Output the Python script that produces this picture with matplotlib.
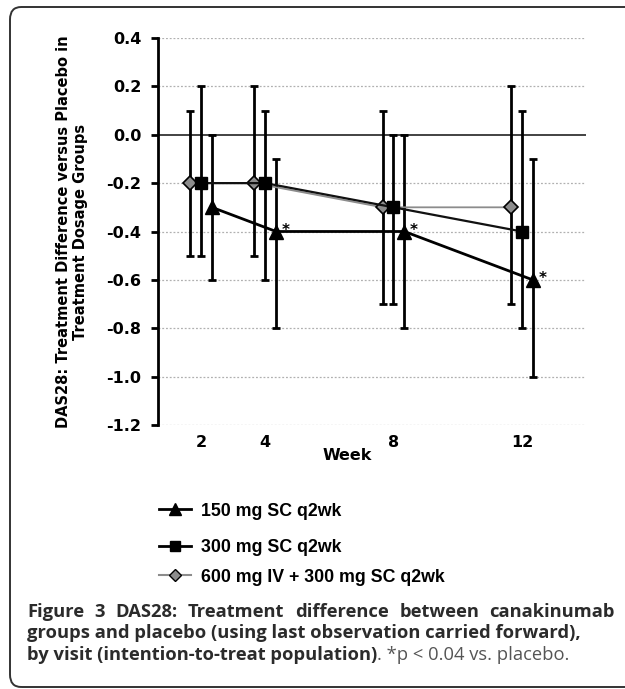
import matplotlib
matplotlib.use("Agg")
import matplotlib.pyplot as plt
from matplotlib.lines import Line2D
from matplotlib.patches import FancyBboxPatch

# data
weeks = [2, 4, 8, 12]
series_labels = ["150 mg SC q2wk", "300 mg SC q2wk", "600 mg IV + 300 mg SC q2wk"]
diff_150 = [-0.3, -0.4, -0.4, -0.6]
lo_150 = [-0.6, -0.8, -0.8, -1.0]
hi_150 = [0.0, -0.1, 0.0, -0.1]
diff_300 = [-0.2, -0.2, -0.3, -0.4]
lo_300 = [-0.5, -0.6, -0.7, -0.8]
hi_300 = [0.2, 0.1, 0.0, 0.1]
diff_600 = [-0.2, -0.2, -0.3, -0.3]
lo_600 = [-0.5, -0.5, -0.7, -0.7]
hi_600 = [0.1, 0.2, 0.1, 0.2]
signif_150 = [False, True, True, True]
y_ticks = [0.4, 0.2, 0.0, -0.2, -0.4, -0.6, -0.8, -1.0, -1.2]

W, H = 625, 689
plt.rcParams["axes.unicode_minus"] = False


def fx(px):
    return px / W


def fy(py):
    return 1 - py / H


fig = plt.figure(figsize=(W / 100, H / 100), dpi=100)

# outer rounded frame (right side runs off the picture)
frame = FancyBboxPatch((fx(10), fy(687)), fx(700) - fx(10), fy(7) - fy(687),
                       boxstyle="round,pad=0,rounding_size=0.018",
                       transform=fig.transFigure, fill=False,
                       edgecolor="#333333", linewidth=1.4)
fig.patches.append(frame)

ax = fig.add_axes([fx(158), fy(425), fx(586) - fx(158), fy(38) - fy(425)])
ax.set_xlim(0.66, 14.0)
ax.set_ylim(-1.2, 0.4)

# grid + zero line
for yv in y_ticks:
    if yv == 0.0:
        ax.axhline(yv, color="#222222", linewidth=1.2, zorder=1)
    else:
        ax.axhline(yv, color="#b0b0b0", linewidth=0.9, linestyle=(0, (1.5, 1.5)), zorder=0)


def errs(d, lo, hi):
    return [[a - b for a, b in zip(d, lo)], [c - a for a, c in zip(d, hi)]]


shift = 0.34
x600 = [w - shift for w in weeks]
x300 = list(weeks)
x150 = [w + shift for w in weeks]

ax.errorbar(x600, diff_600, yerr=errs(diff_600, lo_600, hi_600), fmt="none",
            ecolor="black", elinewidth=2, capsize=3, capthick=2, zorder=2)
ax.errorbar(x300, diff_300, yerr=errs(diff_300, lo_300, hi_300), fmt="none",
            ecolor="black", elinewidth=2, capsize=3, capthick=2, zorder=2)
ax.errorbar(x150, diff_150, yerr=errs(diff_150, lo_150, hi_150), fmt="none",
            ecolor="black", elinewidth=2, capsize=3, capthick=2, zorder=2)

ax.plot(x600, diff_600, color="#8c8c8c", linewidth=1.3, marker="D", markersize=7.5,
        markerfacecolor="#8c8c8c", markeredgecolor="black", markeredgewidth=1.2, zorder=3)
ax.plot(x300, diff_300, color="#111111", linewidth=1.6, marker="s", markersize=9,
        markerfacecolor="black", markeredgecolor="black", zorder=4)
ax.plot(x150, diff_150, color="black", linewidth=2, marker="^", markersize=10,
        markerfacecolor="black", markeredgecolor="black", zorder=5)

for xv, yv, s in zip(x150, diff_150, signif_150):
    if s:
        ax.annotate("*", (xv, yv), xytext=(7, 1), textcoords="offset points",
                    ha="center", va="center", fontsize=11, fontweight="bold")

# axes styling
for side in ["top", "right", "bottom"]:
    ax.spines[side].set_visible(False)
ax.spines["left"].set_linewidth(2)
ax.set_yticks(y_ticks)
ax.set_yticklabels(["%.1f" % v for v in y_ticks])
ax.set_xticks(weeks)
ax.set_xticklabels([str(w) for w in weeks])
ax.tick_params(axis="y", length=5, width=2, pad=7, labelsize=11.5)
ax.tick_params(axis="x", length=0, pad=7, labelsize=11.5)
for lab in ax.get_yticklabels() + ax.get_xticklabels():
    lab.set_fontweight("bold")

fig.text(fx(347), fy(456), "Week", ha="center", va="center", fontsize=11.5, fontweight="bold")
fig.text(fx(72), fy(232), "DAS28: Treatment Difference versus Placebo in\nTreatment Dosage Groups",
         rotation=90, ha="center", va="center", multialignment="center",
         fontsize=10.5, fontweight="bold", linespacing=1.1)

# legend, one entry per row
handles = [
    Line2D([], [], color="black", linewidth=2, marker="^", markersize=8, markerfacecolor="black"),
    Line2D([], [], color="black", linewidth=2, marker="s", markersize=7, markerfacecolor="black"),
    Line2D([], [], color="#8c8c8c", linewidth=1.5, marker="D", markersize=6,
           markerfacecolor="#8c8c8c", markeredgecolor="black"),
]
rows_y = [511, 548, 577]
for h, lab, ry in zip(handles, series_labels, rows_y):
    fig.legend([h], [lab], loc="center left", bbox_to_anchor=(fx(150), fy(ry)),
               frameon=False, handlelength=1.8, handletextpad=0.55, borderpad=0,
               prop={"family": "Liberation Sans", "weight": "bold", "size": 12.8})

# caption
cap_size = 13.2
cap_kw = dict(family="Open Sans", fontsize=cap_size, va="baseline", color="#2b2b2b")
renderer = fig.canvas.get_renderer()
words = "Figure 3 DAS28: Treatment difference between canakinumab".split()
texts = [fig.text(0, fy(617), w, fontweight="bold", **cap_kw) for w in words]
widths = [t.get_window_extent(renderer).width for t in texts]
gap = (615 - 27 - sum(widths)) / (len(words) - 1)
xpos = 27
for t, wd in zip(texts, widths):
    t.set_x(fx(xpos))
    xpos += wd + gap

fig.text(fx(27), fy(638), "groups and placebo (using last observation carried forward),",
         fontweight="bold", **cap_kw)
t3 = fig.text(fx(27), fy(660), "by visit (intention-to-treat population)", fontweight="bold", **cap_kw)
w3 = t3.get_window_extent(renderer).width
fig.text(fx(27 + w3), fy(660), ". *p < 0.04 vs. placebo.",
         family="Open Sans", fontsize=cap_size, va="baseline", color="#555555")

fig.savefig("out.png", dpi=100)
